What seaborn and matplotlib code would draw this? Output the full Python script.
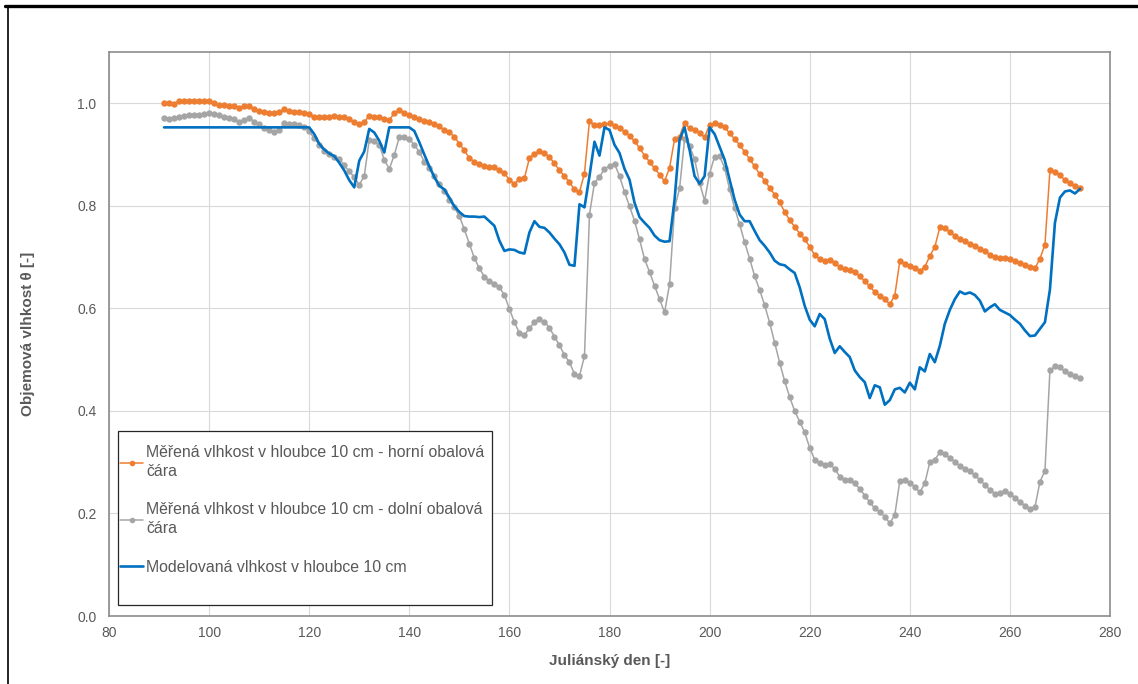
import numpy as np
import pandas as pd
import matplotlib
matplotlib.use("Agg")
import matplotlib.pyplot as plt
from matplotlib.patches import Rectangle
from matplotlib.lines import Line2D
import seaborn as sns

# ---------------- data ----------------
days = list(range(91, 275))

horni = [
    1.001, 1.001, 0.999, 1.004, 1.005, 1.004, 1.004, 1.005, 1.005, 1.004,   # 91-100
    1.001, 0.997, 0.996, 0.995, 0.994, 0.991, 0.995, 0.994, 0.988, 0.985,   # 101-110
    0.983, 0.982, 0.981, 0.983, 0.988, 0.985, 0.983, 0.983, 0.982, 0.979,   # 111-120
    0.974, 0.974, 0.974, 0.974, 0.975, 0.974, 0.973, 0.969, 0.964, 0.960,   # 121-130
    0.963, 0.976, 0.974, 0.973, 0.969, 0.967, 0.981, 0.987, 0.982, 0.978,   # 131-140
    0.974, 0.969, 0.966, 0.964, 0.960, 0.955, 0.948, 0.943, 0.935, 0.921,   # 141-150
    0.908, 0.893, 0.886, 0.881, 0.877, 0.876, 0.876, 0.869, 0.864, 0.850,   # 151-160
    0.843, 0.852, 0.854, 0.893, 0.902, 0.906, 0.903, 0.895, 0.883, 0.869,   # 161-170
    0.858, 0.846, 0.832, 0.827, 0.863, 0.966, 0.957, 0.957, 0.959, 0.961,   # 171-180
    0.956, 0.951, 0.944, 0.937, 0.926, 0.913, 0.898, 0.886, 0.873, 0.861,   # 181-190
    0.848, 0.874, 0.930, 0.935, 0.962, 0.951, 0.947, 0.942, 0.934, 0.958,   # 191-200
    0.961, 0.958, 0.953, 0.942, 0.930, 0.919, 0.905, 0.891, 0.877, 0.862,   # 201-210
    0.849, 0.835, 0.822, 0.807, 0.788, 0.772, 0.759, 0.746, 0.735, 0.720,   # 211-220
    0.704, 0.696, 0.692, 0.695, 0.689, 0.681, 0.676, 0.675, 0.670, 0.663,   # 221-230
    0.653, 0.643, 0.632, 0.625, 0.618, 0.608, 0.625, 0.692, 0.687, 0.683,   # 231-240
    0.679, 0.672, 0.681, 0.702, 0.720, 0.758, 0.756, 0.749, 0.742, 0.736,   # 241-250
    0.731, 0.726, 0.722, 0.716, 0.711, 0.705, 0.701, 0.698, 0.698, 0.696,   # 251-260
    0.692, 0.688, 0.684, 0.680, 0.678, 0.697, 0.724, 0.869, 0.865, 0.860,   # 261-270
    0.850, 0.845, 0.839, 0.834,                                             # 271-274
]

dolni = [
    0.971, 0.970, 0.972, 0.974, 0.975, 0.977, 0.977, 0.978, 0.979, 0.981,   # 91-100
    0.979, 0.978, 0.974, 0.972, 0.969, 0.964, 0.968, 0.972, 0.964, 0.959,   # 101-110
    0.951, 0.947, 0.944, 0.948, 0.961, 0.959, 0.960, 0.958, 0.953, 0.945,   # 111-120
    0.932, 0.919, 0.906, 0.901, 0.896, 0.892, 0.879, 0.867, 0.856, 0.841,   # 121-130
    0.858, 0.929, 0.927, 0.919, 0.890, 0.872, 0.899, 0.934, 0.935, 0.930,   # 131-140
    0.919, 0.905, 0.886, 0.874, 0.858, 0.843, 0.828, 0.812, 0.797, 0.780,   # 141-150
    0.754, 0.726, 0.698, 0.678, 0.662, 0.653, 0.648, 0.641, 0.626, 0.599,   # 151-160
    0.573, 0.552, 0.548, 0.561, 0.573, 0.579, 0.574, 0.562, 0.545, 0.528,   # 161-170
    0.509, 0.495, 0.472, 0.468, 0.507, 0.783, 0.845, 0.856, 0.872, 0.878,   # 171-180
    0.882, 0.858, 0.827, 0.799, 0.771, 0.735, 0.696, 0.671, 0.644, 0.618,   # 181-190
    0.592, 0.647, 0.795, 0.834, 0.930, 0.916, 0.891, 0.845, 0.810, 0.863,   # 191-200
    0.896, 0.897, 0.874, 0.832, 0.796, 0.764, 0.729, 0.697, 0.663, 0.636,   # 201-210
    0.606, 0.572, 0.533, 0.494, 0.458, 0.427, 0.400, 0.379, 0.358, 0.328,   # 211-220
    0.305, 0.298, 0.295, 0.297, 0.287, 0.272, 0.266, 0.265, 0.259, 0.248,   # 221-230
    0.235, 0.222, 0.210, 0.203, 0.194, 0.181, 0.197, 0.263, 0.265, 0.259,   # 231-240
    0.252, 0.241, 0.259, 0.300, 0.305, 0.319, 0.315, 0.308, 0.301, 0.293,   # 241-250
    0.287, 0.282, 0.275, 0.265, 0.256, 0.246, 0.238, 0.239, 0.243, 0.238,   # 251-260
    0.231, 0.223, 0.215, 0.209, 0.212, 0.262, 0.283, 0.479, 0.487, 0.485,   # 261-270
    0.477, 0.472, 0.468, 0.464,                                             # 271-274
]

model = [
    0.953, 0.953, 0.953, 0.953, 0.953, 0.953, 0.953, 0.953, 0.953, 0.953,   # 91-100
    0.953, 0.953, 0.953, 0.953, 0.953, 0.953, 0.953, 0.953, 0.953, 0.953,   # 101-110
    0.953, 0.953, 0.953, 0.953, 0.953, 0.953, 0.953, 0.953, 0.953, 0.953,   # 111-120
    0.940, 0.921, 0.910, 0.902, 0.897, 0.884, 0.869, 0.850, 0.836, 0.888,   # 121-130
    0.906, 0.950, 0.943, 0.927, 0.904, 0.953, 0.953, 0.953, 0.953, 0.953,   # 131-140
    0.946, 0.924, 0.900, 0.877, 0.856, 0.839, 0.832, 0.816, 0.799, 0.788,   # 141-150
    0.780, 0.779, 0.779, 0.778, 0.779, 0.770, 0.761, 0.732, 0.712, 0.715,   # 151-160
    0.714, 0.709, 0.707, 0.748, 0.770, 0.759, 0.757, 0.748, 0.736, 0.725,   # 161-170
    0.709, 0.685, 0.683, 0.803, 0.797, 0.858, 0.925, 0.898, 0.953, 0.948,   # 171-180
    0.919, 0.903, 0.872, 0.851, 0.806, 0.778, 0.767, 0.757, 0.742, 0.733,   # 181-190
    0.730, 0.731, 0.812, 0.929, 0.953, 0.909, 0.858, 0.843, 0.858, 0.953,   # 191-200
    0.940, 0.915, 0.890, 0.851, 0.812, 0.783, 0.770, 0.770, 0.751, 0.733,   # 201-210
    0.722, 0.709, 0.693, 0.686, 0.684, 0.676, 0.669, 0.641, 0.605, 0.578,   # 211-220
    0.565, 0.589, 0.579, 0.541, 0.513, 0.526, 0.515, 0.505, 0.479, 0.466,   # 221-230
    0.456, 0.425, 0.450, 0.446, 0.412, 0.421, 0.442, 0.445, 0.436, 0.455,   # 231-240
    0.442, 0.485, 0.477, 0.511, 0.495, 0.527, 0.570, 0.597, 0.618, 0.633,   # 241-250
    0.628, 0.631, 0.626, 0.615, 0.594, 0.602, 0.608, 0.597, 0.592, 0.587,   # 251-260
    0.578, 0.570, 0.557, 0.546, 0.547, 0.560, 0.573, 0.637, 0.767, 0.816,   # 261-270
    0.828, 0.830, 0.824, 0.833,                                             # 271-274
]

labels = [
    "Měřená vlhkost v hloubce 10 cm - horní obalová\nčára",
    "Měřená vlhkost v hloubce 10 cm - dolní obalová\nčára",
    "Modelovaná vlhkost v hloubce 10 cm",
]
x_ticks = [80, 100, 120, 140, 160, 180, 200, 220, 240, 260, 280]
y_ticks = [0.0, 0.2, 0.4, 0.6, 0.8, 1.0]
x_label = "Juliánský den [-]"
y_label = "Objemová vlhkost θ [-]"

# ---------------- style ----------------
sns.set_style("white")
plt.rcParams["font.family"] = ["Liberation Sans", "DejaVu Sans"]

ORANGE = "#ED7D31"
GRAY = "#A5A5A5"
BLUE = "#0070C0"
TXT = "#595959"

fig = plt.figure(figsize=(11.38, 6.84), dpi=100)
ax = fig.add_axes([109 / 1138, 1 - 616 / 684, 1001 / 1138, 564 / 684])

df = pd.DataFrame({"den": days, "horni": horni, "dolni": dolni, "model": model})

sns.lineplot(data=df, x="den", y="horni", ax=ax, color=ORANGE, marker="o",
             markersize=4.6, markeredgewidth=0, linewidth=1.1, label=labels[0], zorder=3)
sns.lineplot(data=df, x="den", y="dolni", ax=ax, color=GRAY, marker="o",
             markersize=4.6, markeredgewidth=0, linewidth=1.1, label=labels[1], zorder=3)
sns.lineplot(data=df, x="den", y="model", ax=ax, color=BLUE,
             linewidth=1.9, label=labels[2], zorder=4)

ax.set_xlim(80, 280)
ax.set_ylim(0, 1.1)
ax.set_xticks(x_ticks)
ax.set_yticks(y_ticks)
ax.set_xticklabels([str(t) for t in x_ticks])
ax.set_yticklabels([f"{t:.1f}" for t in y_ticks])
ax.tick_params(axis="both", length=0, labelsize=10, labelcolor=TXT)
ax.tick_params(axis="y", pad=9)
ax.tick_params(axis="x", pad=7)
ax.grid(True, color="#D9D9D9", linewidth=0.8)
ax.set_axisbelow(True)
for s in ax.spines.values():
    s.set_color("#8C8C8C")
    s.set_linewidth(1.2)

ax.set_xlabel(x_label, fontsize=11, fontweight="bold", color=TXT)
ax.set_ylabel(y_label, fontsize=11, fontweight="bold", color=TXT)
ax.xaxis.set_label_coords(0.5, (616 - 654) / 564)
ax.yaxis.set_label_coords((35 - 109) / 1001, 0.5)

# legend box
x0 = (118 - 109) / 1001
y0 = (616 - 605) / 564
w = (492 - 118) / 1001
h = (605 - 431) / 564
ax.add_patch(Rectangle((x0, y0), w, h, transform=ax.transAxes, facecolor="white",
                       edgecolor="#262626", linewidth=0.9, zorder=5))
leg = ax.legend(loc="upper left", bbox_to_anchor=((120 - 109) / 1001, (616 - 445) / 564),
                frameon=False, fontsize=11.45, handlelength=1.45, handletextpad=0.2,
                labelspacing=1.45, borderaxespad=0, borderpad=0, labelcolor=TXT)
leg.set_zorder(6)
for t in leg.get_texts():
    t.set_linespacing(1.35)
for hnd in leg.legend_handles:
    hnd.set_markersize(4)

# outer frame (top and left border of the original picture)
fig.add_artist(Line2D([5 / 1138, 1.0], [1 - 6 / 684, 1 - 6 / 684], color="black",
                      linewidth=2.4, transform=fig.transFigure))
fig.add_artist(Line2D([8 / 1138, 8 / 1138], [0, 1 - 6 / 684], color="black",
                      linewidth=1.2, transform=fig.transFigure))

fig.savefig("out.png", dpi=100)
